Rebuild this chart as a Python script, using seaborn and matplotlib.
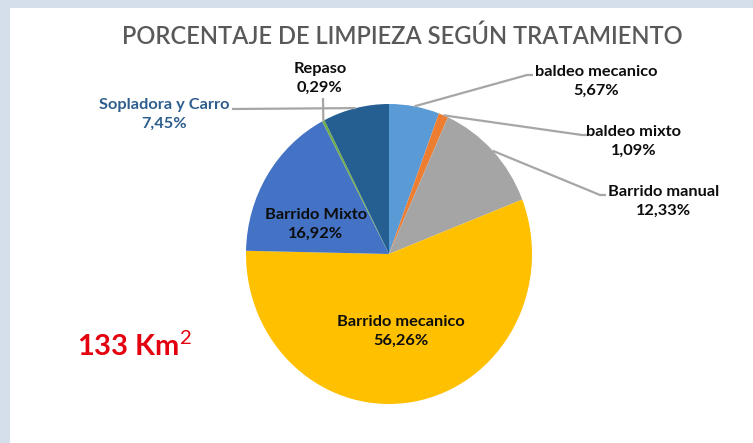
import numpy as np
import matplotlib
matplotlib.use("Agg")
import matplotlib.pyplot as plt
import seaborn as sns
from matplotlib.patches import Rectangle

# --- DATA ---
categorias = ["baldeo mecanico", "baldeo mixto", "Barrido manual", "Barrido mecanico",
              "Barrido Mixto", "Repaso", "Sopladora y Carro"]
porcentajes = [5.67, 1.09, 12.33, 56.26, 16.92, 0.29, 7.45]
etiquetas_pct = ["5,67%", "1,09%", "12,33%", "56,26%", "16,92%", "0,29%", "7,45%"]
colores = ["#5B9BD5", "#ED7D31", "#A5A5A5", "#FFC000", "#4472C4", "#70AD47", "#255E91"]
titulo = "PORCENTAJE DE LIMPIEZA SEGÚN TRATAMIENTO"
area_total = "133 Km$^2$"

# label layout (pixel positions in a 753x443 canvas)
label_pos = {
    "baldeo mecanico": (596, 81),
    "baldeo mixto": (634, 141),
    "Barrido manual": (664, 201),
    "Barrido mecanico": (401, 331),
    "Barrido Mixto": (316, 224),
    "Repaso": (320, 78),
    "Sopladora y Carro": (164, 114),
}
leader_end = {
    "baldeo mecanico": [(527, 75), (533, 75)],
    "baldeo mixto": [(582, 135), (588, 135)],
    "Barrido manual": [(600, 195), (606, 195)],
    "Repaso": [(323, 98)],
    "Sopladora y Carro": [(232, 109)],
}

sns.set_theme(style="white")
plt.rcParams['font.family'] = ['Lato', 'DejaVu Sans']
plt.rcParams['mathtext.fontset'] = 'custom'
plt.rcParams['mathtext.rm'] = 'Lato'
plt.rcParams['mathtext.bf'] = 'Lato:bold'

W, H = 753, 443
fig = plt.figure(figsize=(W / 100, H / 100), dpi=100, facecolor="#D5DFEB")
fig.patches.append(Rectangle((10 / W, 0), 1, 1 - 8 / H, transform=fig.transFigure,
                             facecolor="white", edgecolor="none", zorder=-10))

# pie axes (slightly taller than wide, like the original)
cx, cy, rx, ry = 389, 254, 143, 150
ax = fig.add_axes([(cx - rx) / W, 1 - (cy + ry) / H, 2 * rx / W, 2 * ry / H], zorder=2)
wedges, _ = ax.pie(porcentajes, colors=sns.color_palette(colores), startangle=90,
                   counterclock=False, radius=1, wedgeprops=dict(linewidth=0))
ax.set_aspect('auto')
ax.set_xlim(-1, 1)
ax.set_ylim(-1, 1)
ax.axis('off')

# overlay in pixel coords
ov = fig.add_axes([0, 0, 1, 1], zorder=5)
ov.set_xlim(0, W)
ov.set_ylim(H, 0)
ov.axis('off')
ov.patch.set_alpha(0)

inv = ov.transData.inverted()
for w, cat, pct in zip(wedges, categorias, etiquetas_pct):
    if cat in leader_end:
        mid = np.deg2rad((w.theta1 + w.theta2) / 2)
        sx, sy = inv.transform(ax.transData.transform((np.cos(mid), np.sin(mid))))
        pts = [(sx, sy)] + leader_end[cat]
        ov.plot([p[0] for p in pts], [p[1] for p in pts], color="#A6A6A6", lw=1.6,
                solid_capstyle='butt')
    color = "#2E5E8E" if cat == "Sopladora y Carro" else "#0D0D0D"
    x, y = label_pos[cat]
    ov.text(x, y, f"{cat}\n{pct}", ha="center", va="center", fontsize=11.8,
            fontweight="bold", color=color, linespacing=1.45)

ov.text(402, 36, titulo, ha="center", va="center", fontsize=17, fontweight=600,
        color="#595959")
ov.text(135, 346, area_total, ha="center", va="center", fontsize=21, fontweight="bold",
        color="#E3000F")

fig.savefig("out.png", dpi=100, facecolor=fig.get_facecolor())
